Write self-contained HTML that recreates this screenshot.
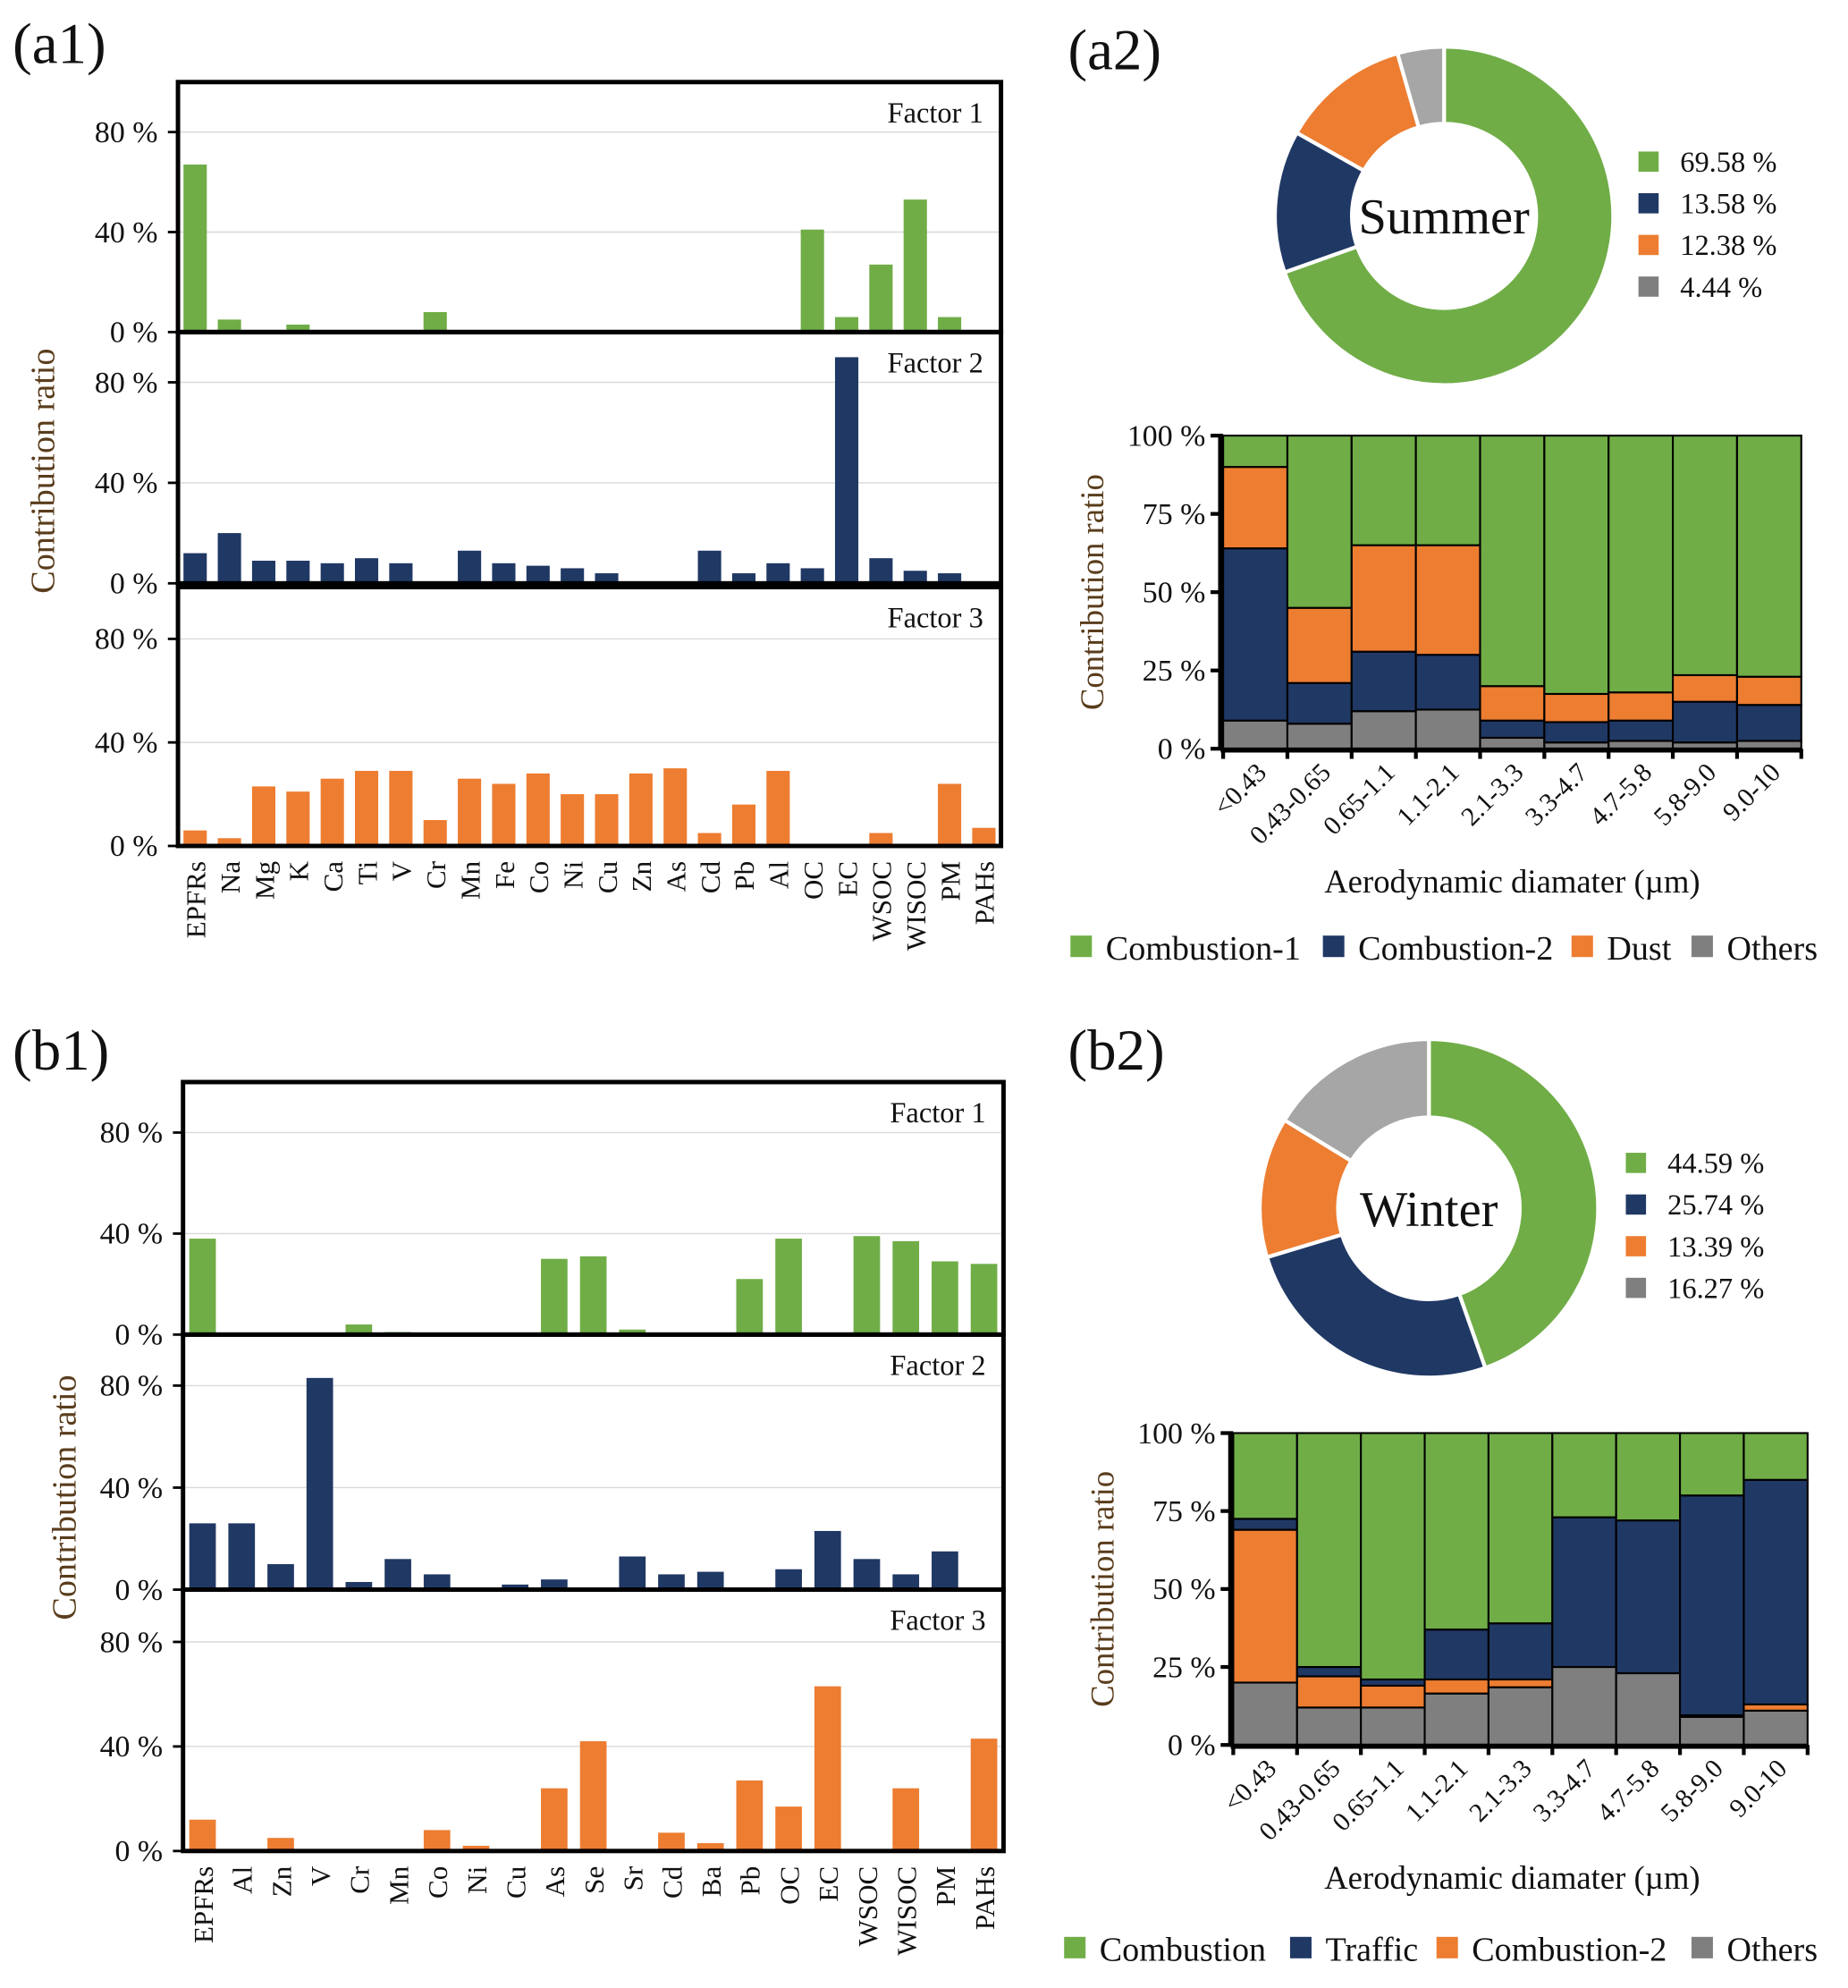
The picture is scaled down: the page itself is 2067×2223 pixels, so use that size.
<!DOCTYPE html>
<html><head><meta charset="utf-8"><style>
html,body{margin:0;padding:0;background:#fff}
svg{display:block}
text{font-family:"Liberation Serif",serif;fill:#111}
</style></head><body>
<svg id="fig" width="2067" height="2223" viewBox="0 0 1464 1574.5" preserveAspectRatio="none" xmlns="http://www.w3.org/2000/svg"></svg>
<script>
const a1Cats=["EPFRs","Na","Mg","K","Ca","Ti","V","Cr","Mn","Fe","Co","Ni","Cu","Zn","As","Cd","Pb","Al","OC","EC","WSOC","WISOC","PM","PAHs"];
const a1F1=[67,5,0,3,0,0,0,8,0,0,0,0,0,0,0,0,0,0,41,6,27,53,6,0];
const a1F2=[12,20,9,9,8,10,8,0,13,8,7,6,4,0,0,13,4,8,6,90,10,5,4,0];
const a1F3=[6,3,23,21,26,29,29,10,26,24,28,20,20,28,30,5,16,29,0,0,5,0,24,7];
const b1Cats=["EPFRs","Al","Zn","V","Cr","Mn","Co","Ni","Cu","As","Se","Sr","Cd","Ba","Pb","OC","EC","WSOC","WISOC","PM","PAHs"];
const b1F1=[38,0,0,0,4,1,0,0,0,30,31,2,0,0,22,38,0,39,37,29,28];
const b1F2=[26,26,10,83,3,12,6,0,2,4,0,13,6,7,0,8,23,12,6,15,0];
const b1F3=[12,0,5,0,0,0,8,2,0,24,42,0,7,3,27,17,63,0,24,0,43];
const factorTicks=[0,40,80];
const sizeCats=["<0.43","0.43-0.65","0.65-1.1","1.1-2.1","2.1-3.3","3.3-4.7","4.7-5.8","5.8-9.0","9.0-10"];
const stackTicks=[0,25,50,75,100];
const sumOthers=[9,8,12,12.5,3.5,2,2.5,2,2.5];
const sumComb2=[55,13,19,17.5,5.5,6.5,6.5,13,11.5];
const sumDust=[26,24,34,35,11,9,9,8.5,9];
const sumComb1=[10,55,35,35,80,82.5,82,76.5,77];
const winOthers=[20,12,12,16.5,18.5,25,23,9,11];
const winComb2=[49,10,7,4.5,2.5,0,0,0.5,2];
const winTraffic=[3.5,3,2,16,18,48,49,70.5,72];
const winComb=[27.5,75,79,63,61,27,28,20,15];
const sumPie=[69.58,13.58,12.38,4.44];
const winPie=[44.59,25.74,13.39,16.27];

const NS="http://www.w3.org/2000/svg";
const svg=document.getElementById('fig');
const G="#70ad47",N="#203864",O="#ed7d31",GR="#7f7f7f",GRL="#a6a6a6";
function el(tag,attrs,parent,txt){const e=document.createElementNS(NS,tag);for(const k in attrs)e.setAttribute(k,attrs[k]);if(txt!==undefined)e.textContent=txt;(parent||svg).appendChild(e);return e;}

function factorChart(name,x0,x1,panels,cats,series,colors,ylabX,ylabY){
  const g=el('g',{});
  
  
  const n=cats.length,step=(x1-x0)/n,bw=step*0.68;
  panels.forEach((p,pi)=>{
    const [top,bot]=p;
    const y=v=>bot-(bot-top)*v/100;
    factorTicks.forEach(t=>{
      if(t>0){const gl=el('line',{x1:x0,x2:x1,y1:y(t),y2:y(t),stroke:'#d9d9d9','stroke-width':1},g);
      }
      el('line',{x1:x0-8,x2:x0,y1:y(t),y2:y(t),stroke:'#000','stroke-width':2},g);
      const tl=el('text',{x:x0-16,y:y(t)+8,'text-anchor':'end','font-size':24},g,t+' %');
      
    });
    series[pi].forEach((v,i)=>{
      if(v<=0)return;
      const b=el('rect',{x:x0+step*i+(step-bw)/2,y:y(v),width:bw,height:bot-y(v),fill:colors[pi]},g);
      
      
    });
    const r=el('rect',{x:x0,y:top,width:x1-x0,height:bot-top,fill:'none',stroke:'#000','stroke-width':3.5},g);
    
    const fl=el('text',{x:x1-14,y:top+32,'text-anchor':'end','font-size':23},g,'Factor '+(pi+1));
    
  });
  const bot=panels[2][1];
  cats.forEach((c,i)=>{
    const cx=x0+step*i+step/2;
    const t=el('text',{x:0,y:0,'text-anchor':'end','font-size':22,transform:`translate(${cx+8},${bot+12}) rotate(-90)`},g,c);
    
  });
  const yl=el('text',{x:0,y:0,'text-anchor':'middle','font-size':27,style:'fill:#5a3d1c',transform:`translate(${ylabX},${ylabY}) rotate(-90)`},g,'Contribution ratio');
  
}

function donut(name,cx,cy,R,r,vals,colors,label,legX,legY,legStep){
  const g=el('g',{});
  
  let a=0;const tot=vals.reduce((s,v)=>s+v,0);
  vals.forEach((v,i)=>{
    const a0=a/tot*2*Math.PI,a1=(a+v)/tot*2*Math.PI;a+=v;
    const P=(ang,rad)=>[cx+rad*Math.sin(ang),cy-rad*Math.cos(ang)];
    const large=(a1-a0)>Math.PI?1:0;
    const [x1,y1]=P(a0,R),[x2,y2]=P(a1,R),[x3,y3]=P(a1,r),[x4,y4]=P(a0,r);
    const s=el('path',{d:`M${x1},${y1}A${R},${R} 0 ${large} 1 ${x2},${y2}L${x3},${y3}A${r},${r} 0 ${large} 0 ${x4},${y4}Z`,fill:colors[i],stroke:'#fff','stroke-width':3},g);
    
    const sq=el('rect',{x:legX,y:legY+legStep*i-8,width:16,height:16,fill:colors[i]===GRL?GR:colors[i]},g);
    
    const lt=el('text',{x:legX+33,y:legY+legStep*i+8,'font-size':23},g,v.toFixed(2)+' %');
    
  });
  const c=el('text',{x:cx,y:cy+14,'text-anchor':'middle','font-size':40},g,label);
  
}

function stacked(name,x0,x1,y0,y100,series,colors,names,titleX){
  const g=el('g',{});
  
  const n=sizeCats.length,step=(x1-x0)/n;
  const y=v=>y0-(y0-y100)*v/100;
  for(let i=0;i<n;i++){
    let acc=0;
    series.forEach((s,si)=>{
      const v=s[i];if(v<=0){return;}
      const b=el('rect',{x:x0+step*i,y:y(acc+v),width:step,height:y(acc)-y(acc+v),fill:colors[si],stroke:'#000','stroke-width':1.5},g);
      
      
      acc+=v;
    });
  }
  el('line',{x1:x0-2,x2:x0-2,y1:y100,y2:y0,stroke:'#000','stroke-width':4},g);
  el('line',{x1:x0-2,x2:x1,y1:y0+1,y2:y0+1,stroke:'#000','stroke-width':4},g);
  stackTicks.forEach(t=>{
    el('line',{x1:x0-10,x2:x0,y1:y(t),y2:y(t),stroke:'#000','stroke-width':3},g);
    const tl=el('text',{x:x0-14,y:y(t)+8,'text-anchor':'end','font-size':24},g,t+' %');
    
  });
  for(let i=0;i<=n;i++)el('line',{x1:x0+step*i,x2:x0+step*i,y1:y0,y2:y0+8,stroke:'#000','stroke-width':3},g);
  sizeCats.forEach((c,i)=>{
    const cx=x0+step*i+step/2;
    const t=el('text',{x:0,y:0,'text-anchor':'end','font-size':21,transform:`translate(${cx+10},${y0+20}) rotate(-45)`},g,c);
    
  });
  const xt=el('text',{x:titleX,y:y0+114,'text-anchor':'middle','font-size':26},g,'Aerodynamic diamater (µm)');
  
  const yt=el('text',{x:0,y:0,'text-anchor':'middle','font-size':26,style:'fill:#5a3d1c',transform:`translate(${x0-95},${(y0+y100)/2}) rotate(-90)`},g,'Contribution ratio');
  
  return g;
}
function legendRow(g,names,cols,xs,ly){
  names.forEach((l,i)=>{
    const sq=el('rect',{x:xs[i],y:ly-9,width:17,height:17,fill:cols[i]},g);
    
    
    const lt=el('text',{x:xs[i]+28,y:ly+10,'font-size':27},g,l);
    
    
  });
}

function plabel(t,x,y){const e=el('text',{x:x,y:y,'font-size':46},svg,t);}
plabel('(a1)',10,50);plabel('(a2)',846,55);plabel('(b1)',10,847);plabel('(b2)',846,847);

factorChart('factor-chart-a1',141,793,[[65,263],[263,462],[465,670]],a1Cats,[a1F1,a1F2,a1F3],[G,N,O],43,373);
factorChart('factor-chart-b1',145,795,[[857,1057],[1057,1259],[1259,1466]],b1Cats,[b1F1,b1F2,b1F3],[G,N,O],60,1186);

donut('summer-donut',1144,171,134,73,sumPie,[G,N,O,GRL],'Summer',1298,128,33);
donut('winter-donut',1132,957,134,72,winPie,[G,N,O,GRL],'Winter',1288,921,33);

const sg=stacked('summer-stacked-bars',969,1427,593,345,[sumOthers,sumComb2,sumDust,sumComb1],[GR,N,O,G],['Others','Combustion-2','Dust','Combustion-1'],1198);
legendRow(sg,['Combustion-1','Combustion-2','Dust','Others'],[G,N,O,GR],[848,1048,1245,1340],750);
const wg=stacked('winter-stacked-bars',977,1432,1382,1135,[winOthers,winComb2,winTraffic,winComb],[GR,O,N,G],['Others','Combustion-2','Traffic','Combustion'],1198);
legendRow(wg,['Combustion','Traffic','Combustion-2','Others'],[G,N,O,GR],[843,1022,1138,1340],1543);
</script>
</body></html>
